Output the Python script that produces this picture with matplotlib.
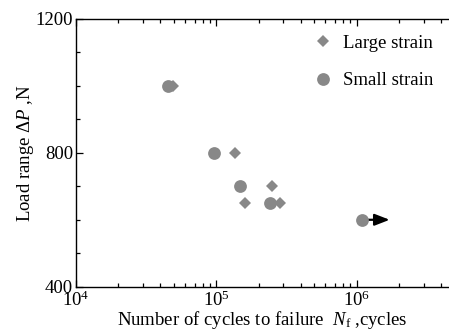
import matplotlib
matplotlib.use("Agg")
import matplotlib.pyplot as plt
from matplotlib.ticker import LogLocator, MultipleLocator, NullFormatter, FixedLocator

plt.rcParams['font.family'] = ['Liberation Serif', 'DejaVu Serif']
plt.rcParams['mathtext.fontset'] = 'custom'
plt.rcParams['mathtext.rm'] = 'Liberation Serif'
plt.rcParams['mathtext.it'] = 'Liberation Serif:italic'
plt.rcParams['mathtext.bf'] = 'Liberation Serif:bold'

# Data
large_x = [4.95e4, 1.37e5, 2.5e5, 1.59e5, 2.83e5]
large_y = [1000, 800, 700, 650, 650]
small_x = [4.5e4, 9.6e4, 1.48e5, 2.43e5, 1.1e6]
small_y = [1000, 800, 700, 650, 600]
runout_x = [1.1e6, 1.72e6]
runout_y = 600
y_ticks = [400, 800, 1200]

gray = '#888888'
fs = 13.5

fig = plt.figure(figsize=(4.49, 3.32), dpi=100)
ax = fig.add_axes([76/449, 1 - 286.7/332, 1 - 76/449, (286.7 - 19)/332])

ax.annotate('', xy=(runout_x[1], runout_y), xytext=(runout_x[0], runout_y),
            arrowprops=dict(arrowstyle='-|>,head_length=0.9,head_width=0.35',
                            color='black', lw=1.6, shrinkA=0, shrinkB=0),
            zorder=2)
ax.plot(large_x, large_y, linestyle='none', marker='D', markersize=6.6,
        color=gray, markeredgewidth=0, label='Large strain', zorder=3)
ax.plot(small_x, small_y, linestyle='none', marker='o', markersize=9.2,
        color=gray, markeredgewidth=0, label='Small strain', zorder=4)

ax.set_xscale('log')
ax.set_xlim(1e4, 10 ** (4 + (449 - 76) / 140.3))
ax.set_ylim(400, 1200)

ax.xaxis.set_major_locator(FixedLocator([1e4, 1e5, 1e6]))
ax.xaxis.set_minor_locator(LogLocator(base=10, subs=range(2, 10), numticks=20))
ax.xaxis.set_minor_formatter(NullFormatter())
ax.set_xticklabels([r'$10^4$', r'$10^5$', r'$10^6$'])
ax.yaxis.set_major_locator(FixedLocator(y_ticks))
ax.yaxis.set_minor_locator(MultipleLocator(100))

ax.spines['right'].set_visible(False)
for s in ['left', 'bottom', 'top']:
    ax.spines[s].set_linewidth(1.0)

ax.tick_params(which='both', direction='in', top=True, right=False,
               labelsize=fs, width=0.9, pad=2)
ax.tick_params(which='major', length=5)
ax.tick_params(which='minor', length=3)
ax.tick_params(axis='x', which='major', pad=3)

ax.set_xlabel(r'Number of cycles to failure  $N_{\rm f}$ ,cycles', fontsize=fs, labelpad=-1)
ax.set_ylabel(r'Load range $\mathit{ΔP}$ ,N', fontsize=fs, labelpad=0)

ax.legend(loc='upper left', bbox_to_anchor=(300/449, 1 - 25/332),
          bbox_transform=fig.transFigure, frameon=False, fontsize=fs,
          labelspacing=1.1, handletextpad=0.3, handlelength=1.5, borderpad=0,
          markerscale=1.0)

fig.savefig('out.png', dpi=100)
